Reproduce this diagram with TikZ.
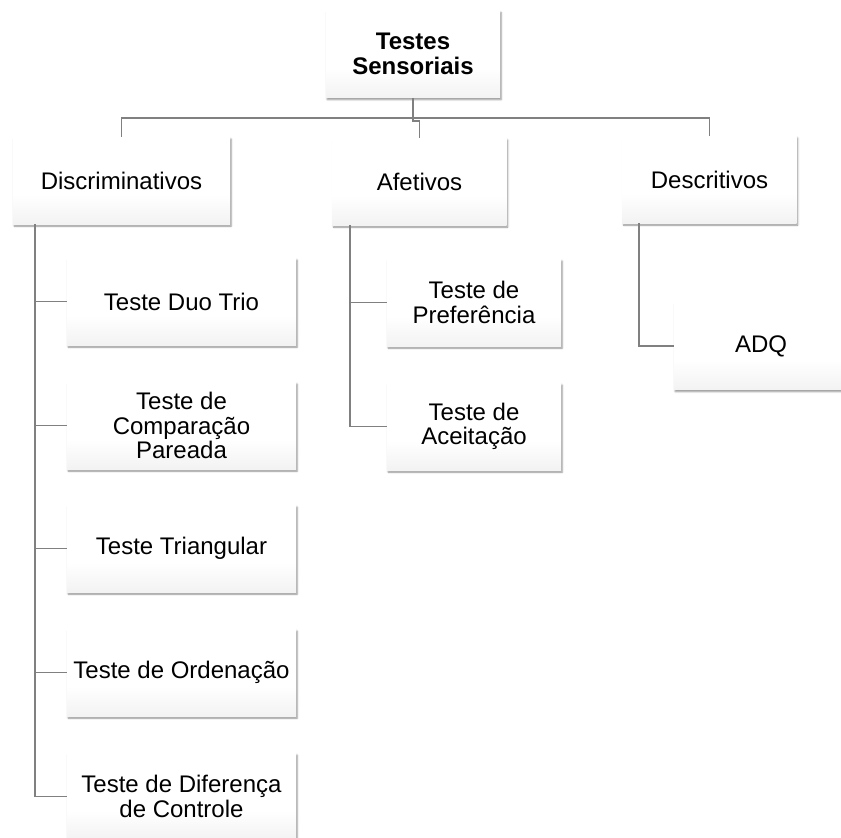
\documentclass[tikz,border=0pt]{standalone}
\usepackage{fontspec}
\setmainfont{Liberation Sans}
\usetikzlibrary{shadows.blur}

\pgfdeclareverticalshading{boxshade}{100bp}{color(0bp)=(black!12); color(42bp)=(white); color(100bp)=(white)}

\tikzset{
	box/.style={rectangle, inner sep=0pt, align=center,
		shading=boxshade,
		blur shadow={shadow xshift=0.6pt, shadow yshift=-1pt, shadow blur radius=0.9pt, shadow opacity=45},
		font=\fontsize{12}{12.3}\selectfont,
		minimum width=87pt, minimum height=43.5pt},
	widebox/.style={box, minimum width=114.5pt},
	link/.style={draw=black!50, line width=0.75pt}
}

\begin{document}
\begin{tikzpicture}[x=0.5pt, y=-0.5pt]
				\useasboundingbox (0,0) rectangle (841,837);
				\node[box, font=\fontsize{12}{12.5}\selectfont\bfseries] (root) at (413,54) {Testes\\Sensoriais};
				\node[box, minimum width=108.5pt] (disc) at (121.5,180.5) {Discriminativos};
				\node[box] (afet) at (419.5,181.5) {Afetivos};
				\node[box] (desc) at (709.5,179.5) {Descritivos};
				\node[widebox] (duo) at (181.5,301.5) {Teste Duo Trio};
				\node[widebox] (comp) at (181.5,425.5) {Teste de\\Compara\c{c}\~ao\\Pareada};
				\node[widebox] (tri) at (181.5,548.5) {Teste Triangular};
				\node[widebox] (ord) at (181.5,672.5) {Teste de Ordena\c{c}\~ao};
				\node[widebox] (dif) at (181.5,796.5) {Teste de Diferen\c{c}a\\de Controle};
				\node[box] (pref) at (474,302.5) {Teste de\\Prefer\^encia};
				\node[box] (acei) at (474,426.5) {Teste de\\Aceita\c{c}\~ao};
				\node[box] (adq) at (761,346) {ADQ};
				\coordinate (bar) at (413,118);
				\coordinate (dtop) at (35,224);
				\coordinate (atop) at (350,225);
				\coordinate (ctop) at (639,223);
				\draw[link] (root.south) -- ++(0,23) -| (afet.north);
				\draw[link] (disc.north) |- (bar) -| (desc.north);
				\foreach \n in {duo,comp,tri,ord,dif}
					\draw[link] (dtop) |- (\n.west);
				\draw[link] (atop) |- (pref.west);
				\draw[link] (atop) |- (acei.west);
				\draw[link] (ctop) |- (adq.west);
			\end{tikzpicture}
\end{document}
